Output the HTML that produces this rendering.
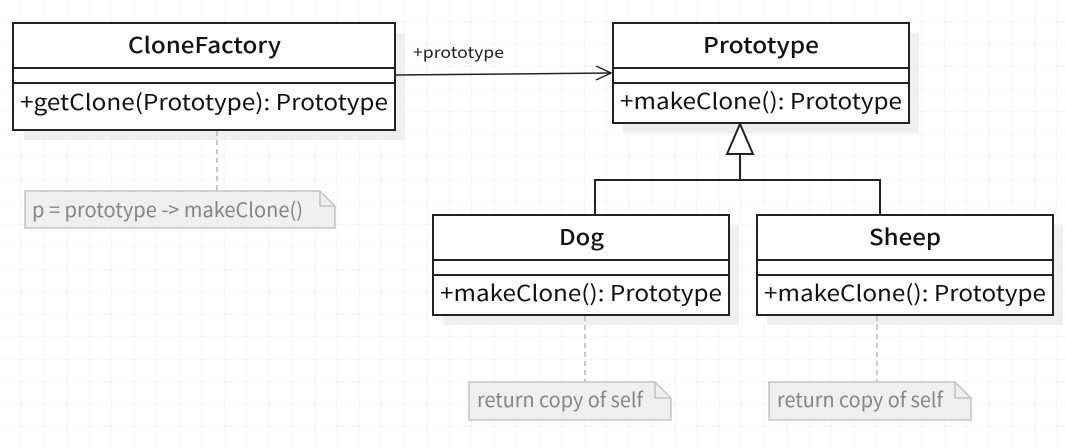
<!DOCTYPE html>
<html><head><meta charset="utf-8"><style>
html,body{margin:0;padding:0;background:#fff;}
svg{display:block;}
text{font-family:"Noto Sans CJK SC","Liberation Sans",sans-serif;}
</style></head><body>
<svg width="1065" height="448" viewBox="0 0 1065 448" xmlns="http://www.w3.org/2000/svg">
<defs>
<pattern id="g" width="22.5" height="22.5" patternUnits="userSpaceOnUse" x="-0.5" y="-0.5">
<path d="M22.5 0V22.5M0 22.5H22.5" fill="none" stroke="#eeeeee" stroke-width="1"/>
</pattern>
</defs>
<rect width="1065" height="448" fill="url(#g)"/>

<g fill="#efefef">
<rect x="24" y="33" width="381" height="107"/>
<rect x="623" y="33" width="296" height="100"/>
<rect x="443" y="225" width="296" height="100"/>
<rect x="767" y="225" width="296" height="100"/>
</g>

<g stroke="#c8c8c8" stroke-width="2" stroke-dasharray="5,4">
<line x1="217" y1="131" x2="217" y2="191"/>
<line x1="585" y1="316" x2="585" y2="382"/>
<line x1="877" y1="316" x2="877" y2="382"/>
</g>

<g fill="#efefef" stroke="#c4c4c4" stroke-width="1.5">
<path d="M25 191H320L335 206V228H25Z"/>
<path d="M320 191V206H335" fill="none"/>
<path d="M469 382H655L671 398V420H469Z"/>
<path d="M655 382V398H671" fill="none"/>
<path d="M769 382H955L971 398V420H769Z"/>
<path d="M955 382V398H971" fill="none"/>
</g>
<g fill="#858585" font-size="20">
<text x="32" y="217" textLength="271" lengthAdjust="spacingAndGlyphs">p = prototype -&gt; makeClone()</text>
<text x="477" y="407" textLength="166" lengthAdjust="spacingAndGlyphs">return copy of self</text>
<text x="777" y="407" textLength="166" lengthAdjust="spacingAndGlyphs">return copy of self</text>
</g>

<g fill="#fff" stroke="#222" stroke-width="2">
<rect x="13" y="23" width="382" height="107"/>
<line x1="13" y1="68" x2="395" y2="68"/><line x1="13" y1="83" x2="395" y2="83"/>
<rect x="613" y="23" width="296" height="100"/>
<line x1="613" y1="68" x2="909" y2="68"/><line x1="613" y1="83" x2="909" y2="83"/>
<rect x="433" y="215" width="296" height="100"/>
<line x1="433" y1="260" x2="729" y2="260"/><line x1="433" y1="275" x2="729" y2="275"/>
<rect x="757" y="215" width="296" height="100"/>
<line x1="757" y1="260" x2="1053" y2="260"/><line x1="757" y1="275" x2="1053" y2="275"/>
</g>
<g fill="#111" font-size="22" font-weight="500">
<text x="128" y="53" textLength="153" lengthAdjust="spacingAndGlyphs">CloneFactory</text>
<text x="703" y="53" textLength="116" lengthAdjust="spacingAndGlyphs">Prototype</text>
<text x="559" y="245" textLength="45" lengthAdjust="spacingAndGlyphs">Dog</text>
<text x="869" y="245" textLength="72" lengthAdjust="spacingAndGlyphs">Sheep</text>
</g>
<g fill="#111" font-size="22">
<text x="20" y="110" textLength="368" lengthAdjust="spacingAndGlyphs">+getClone(Prototype): Prototype</text>
<text x="620" y="109" textLength="282" lengthAdjust="spacingAndGlyphs">+makeClone(): Prototype</text>
<text x="440" y="301" textLength="282" lengthAdjust="spacingAndGlyphs">+makeClone(): Prototype</text>
<text x="764" y="301" textLength="282" lengthAdjust="spacingAndGlyphs">+makeClone(): Prototype</text>
</g>

<line x1="395" y1="75" x2="611" y2="73" stroke="#222" stroke-width="1.5"/>
<path d="M596 66L611 73L596 80" fill="none" stroke="#222" stroke-width="1.5"/>
<text x="413" y="58" font-size="16" fill="#222" textLength="91" lengthAdjust="spacingAndGlyphs">+prototype</text>

<g stroke="#222" stroke-width="2" fill="none">
<path d="M740 154V180M595 215V180H880V215"/>
<path d="M740 124L753 154H727Z" fill="#fff"/>
</g>
</svg>
</body></html>
